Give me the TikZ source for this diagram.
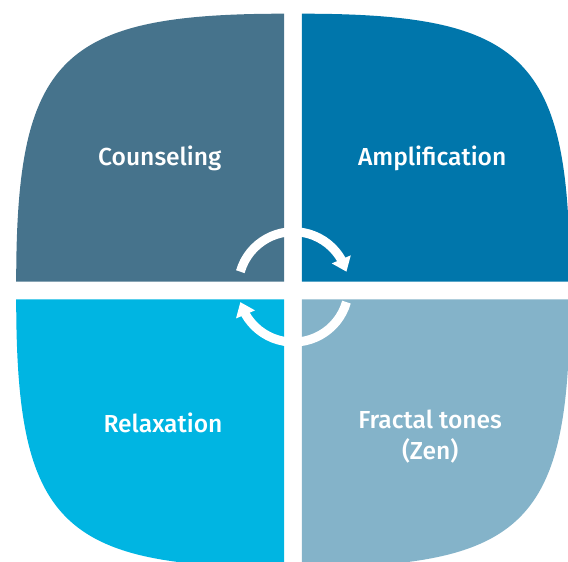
\documentclass[tikz,border=0pt]{standalone}
\usepackage{fontspec}
\setmainfont{Fira Sans Medium}
\usetikzlibrary{arrows.meta,bending}
\definecolor{counselblue}{RGB}{70,115,140}
\definecolor{ampblue}{RGB}{0,118,171}
\definecolor{relaxcyan}{RGB}{0,181,226}
\definecolor{zengrey}{RGB}{132,179,201}
\tikzset{
    quadlabel/.style={text=white, align=center, font=\fontsize{17.5}{22}\selectfont},
    cyclearrow/.style={white, line width=6.4pt, -{Triangle[length=9.5pt,width=14pt,flex]}}
}

\begin{document}
\begin{tikzpicture}
    \useasboundingbox (-7.325,-6.7625) rectangle (6.875,7.2625);
    \clip (-7.325,-6.7625) rectangle (6.875,7.2625);

    % four quadrants
    \fill[counselblue] (-0.22,0.22) -- (-6.92,0.22) .. controls (-6.92,5.82) and (-5.82,6.92) .. (-0.22,6.92) -- cycle;
    \fill[ampblue] (0.22,0.22) -- (0.22,6.92) .. controls (5.82,6.92) and (6.92,5.82) .. (6.92,0.22) -- cycle;
    \fill[relaxcyan] (-0.22,-0.22) -- (-0.22,-6.92) .. controls (-5.82,-6.92) and (-6.92,-5.82) .. (-6.92,-0.22) -- cycle;
    \fill[zengrey] (0.22,-0.22) -- (6.92,-0.22) .. controls (6.92,-5.82) and (5.82,-6.92) .. (0.22,-6.92) -- cycle;

    \node[quadlabel] (counsel) at (-3.33,3.31) {Counseling};
    \node[quadlabel] (amp) at (3.48,3.31) {Amplification};
    \node[quadlabel] (relax) at (-3.25,-3.31) {Relaxation};
    \node[quadlabel] (zen) at (3.43,-3.65) {Fractal tones\\(Zen)};

    % circular arrows in the middle
    \coordinate (hub) at (0.01,0.09);
    \draw[cyclearrow] (hub) ++(164:1.38) arc[start angle=164, end angle=16, radius=1.38];
    \draw[cyclearrow] (hub) ++(-16:1.38) arc[start angle=-16, end angle=-164, radius=1.38];
\end{tikzpicture}
\end{document}
